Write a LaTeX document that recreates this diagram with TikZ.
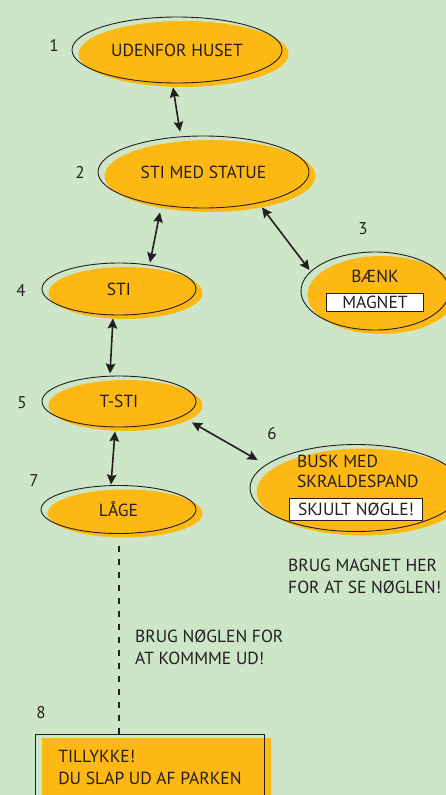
\documentclass[tikz,border=0pt]{standalone}
\usepackage{fontspec}
\setmainfont{PT Sans}
\usetikzlibrary{positioning}
\usetikzlibrary{arrows.meta}
\usetikzlibrary{calc, shapes, shadows}
\definecolor{parkGreen}{RGB}{205,230,200}
\definecolor{spotOrange}{RGB}{253,184,19}
\definecolor{ink}{RGB}{35,31,32}
\newcommand{\tagbox}[3]{{\setlength{\fboxsep}{0pt}\setlength{\fboxrule}{0.9pt}%
	\fcolorbox{ink}{white}{\parbox[c][#2][c]{#1}{\centering #3}}}}
\tikzset{%
	% Specifications for style of nodes:
	base/.style = {draw=ink, line width=0.9pt, text=ink,
		font=\fontsize{17.5pt}{22pt}\selectfont,
		copy shadow={fill=spotOrange, draw=none, shadow xshift=6.5pt, shadow yshift=-4pt}},
	place/.style = {base, ellipse, inner sep=0pt, align=center},
	smallPlace/.style = {place, minimum width=154pt, minimum height=52pt},
	goalBox/.style = {base, rectangle, align=left, inner xsep=22pt},
	stepNo/.style = {text=ink, font=\fontsize{17pt}{22pt}\selectfont},
	hint/.style = {text=ink, inner sep=0pt, align=left,
		font=\fontsize{17.5pt}{22pt}\selectfont},
	link/.style = {<->, line width=1.6pt, draw=ink},
	trail/.style = {draw=ink, line width=2pt, dash pattern=on 6pt off 7pt}
}

\begin{document}
\begin{tikzpicture}[x=1pt, y=-1pt, >={Stealth[length=10pt, width=9.5pt, inset=1.5pt]}]
	\useasboundingbox (0,0) rectangle (446,795);
	\fill[parkGreen] (0,0) rectangle (446,795);
	% places
	\node (outside) [place, minimum width=210pt, minimum height=66pt] at (177,50) {UDENFOR HUSET};
	\node (statue) [place, minimum width=211pt, minimum height=72pt] at (203.5,172) {STI MED STATUE};
	\node (bench) [place, minimum width=148pt, minimum height=78pt] at (375,291) {BÆNK\\[2pt]\tagbox{96pt}{17.5pt}{MAGNET}};
	\node (path) [smallPlace] at (119,289) {STI};
	\node (tPath) [smallPlace, minimum height=51pt] at (119,401.5) {T-STI};
	\node (bush) [place, align=left, minimum width=212pt, minimum height=87pt, inner ysep=-6pt] at (356,488) {\hspace*{8pt}BUSK MED\\[-2pt]\hspace*{8pt}SKRALDESPAND\\[4pt]\tagbox{132pt}{21pt}{SKJULT NØGLE!}};
	\node (gate) [smallPlace, minimum width=155pt, minimum height=48pt] at (118.5,509.5) {LÅGE};
	\node (goal) [goalBox, anchor=north west, minimum width=229pt, minimum height=66pt] at (35,734) {TILLYKKE!\\DU SLAP UD AF PARKEN};
	% numbers
	\node (no1) [stepNo] at (54,45) {1};
	\node (no2) [stepNo] at (80,172) {2};
	\node (no3) [stepNo] at (363,229) {3};
	\node (no4) [stepNo] at (21,290) {4};
	\node (no5) [stepNo] at (22,403) {5};
	\node (no6) [stepNo] at (272,434) {6};
	\node (no7) [stepNo] at (34,481) {7};
	\node (no8) [stepNo] at (41,713) {8};
	% hints
	\node (magnetHint) [hint, anchor=west] at (288,576) {BRUG MAGNET HER\\FOR AT SE NØGLEN!};
	\node (keyHint) [hint, anchor=west] at (135,647.5) {BRUG NØGLEN FOR\\AT KOMMME UD!};
	% connections
	\draw[link] ([shift={(-4,4)}]outside.south) -- ([shift={(-23.5,-4)}]statue.north);
	\draw[link] ([shift={(-43.5,4)}]statue.south) -- ([shift={(31,0)}]path.north);
	\draw[link] ([shift={(58.5,-1)}]statue.south) -- ([shift={(9,-21)}]bench.west);
	\draw[link] ([shift={(-6,3)}]path.south) -- ([shift={(-9,-2)}]tPath.north);
	\draw[link] ([shift={(73,-5)}]tPath.south) -- ([shift={(8,-28)}]bush.west);
	\draw[link] ([shift={(-4,4)}]tPath.south) -- ([shift={(-7.5,-0.5)}]gate.north);
	\draw[trail] ([shift={(0,12)}]gate.south) -- (gate.south |- goal.north);
\end{tikzpicture}
\end{document}
